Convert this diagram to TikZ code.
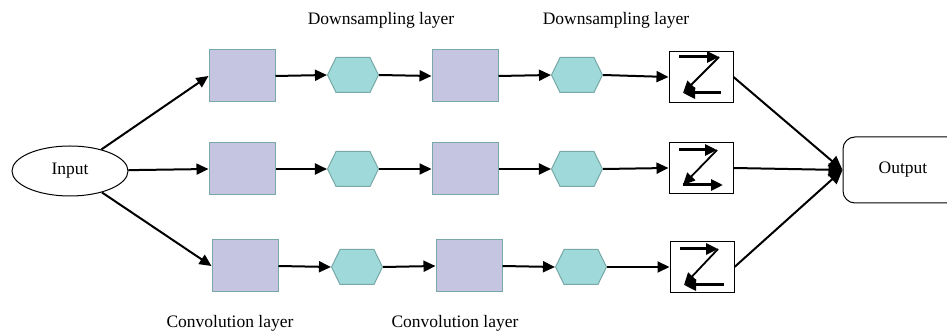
\documentclass[tikz,border=0pt]{standalone}
\usepackage{fontspec}
\setmainfont{Liberation Serif}
\usetikzlibrary{arrows.meta,shapes.geometric,shapes.symbols}
\definecolor{convfill}{HTML}{C5C5E2}
\definecolor{poolfill}{HTML}{A0D9D9}
\definecolor{shapeedge}{HTML}{78A8A8}
\tikzset{
  conv/.style={rectangle,draw=shapeedge,fill=convfill,line width=1pt,minimum width=66pt,minimum height=52pt,inner sep=0pt},
  pool/.style={signal,signal to=east and west,signal pointer angle=128,draw=shapeedge,fill=poolfill,line width=1pt,minimum width=51pt,minimum height=35pt,inner sep=0pt},
  zbox/.style={rectangle,draw=black,line width=1pt,minimum width=64pt,minimum height=51pt,inner sep=0pt},
  flow/.style={line width=2pt,-{Triangle[length=12pt,width=11pt]}},
  merge/.style={line width=2pt,-{Triangle[length=14pt,width=13pt]}},
  zthick/.style={line width=3pt,-{Triangle[length=12pt,width=11pt]}},
  zthin/.style={line width=1.8pt,-{Triangle[length=12pt,width=11pt]}},
  lbl/.style={font=\fontsize{17.5}{20}\selectfont,inner sep=0pt}
}
\begin{document}
\begin{tikzpicture}[x=1pt,y=-1pt]
\useasboundingbox (0,0) rectangle (947,336);

% input and output terminals
\node[ellipse,draw,line width=1pt,minimum width=116pt,minimum height=50pt,lbl] (in) at (70,171) {Input};
\node[rectangle,rounded corners=12pt,draw,line width=1pt,minimum width=120pt,minimum height=66pt,lbl] (out) at (903,170) {Output};

% three parallel branches
\node[conv] (c11) at (242,76) {};
\node[pool] (p11) at (353,75) {};
\node[conv] (c12) at (465,76) {};
\node[pool] (p12) at (577,75) {};
\node[zbox] (z1) at (701,77) {};

\node[conv] (c21) at (242,169) {};
\node[pool] (p21) at (353,169) {};
\node[conv] (c22) at (465,169) {};
\node[pool] (p22) at (577,169) {};
\node[zbox] (z2) at (701,168) {};

\node[conv] (c31) at (245,266) {};
\node[pool] (p31) at (357,267) {};
\node[conv] (c32) at (469,266) {};
\node[pool] (p32) at (581,267) {};
\node[zbox] (z3) at (702,267) {};

% layer captions
\node[lbl] (d1) at (381,20) {Downsampling layer};
\node[lbl] (d2) at (616,20) {Downsampling layer};
\node[lbl] (v1) at (230,323) {Convolution layer};
\node[lbl] (v2) at (455,323) {Convolution layer};

% connectors
\draw[flow] (in) -- (c11.west);
\draw[flow] (in) -- (c21.west);
\draw[flow] (in) -- (c31.west);
\foreach \r in {1,2,3}{
  \draw[flow] (c\r1.east) -- (p\r1.west);
  \draw[flow] (p\r1.east) -- (c\r2.west);
  \draw[flow] (c\r2.east) -- (p\r2.west);
  \draw[flow] (p\r2.east) -- (z\r.west);
  \draw[merge] (z\r.east) -- (out.west);
}

% scan-order glyphs inside the flattening boxes
\begin{scope}[shift={(z1.center)}]
  \draw[zthick] (-22,-20) -- (18,-20);
  \draw[zthin] (18,-20) -- (-18,16);
  \draw[zthick] (20,16) -- (-18,16);
\end{scope}
\begin{scope}[shift={(z2.center)}]
  \draw[zthick] (-22,-18) -- (16,-18);
  \draw[zthin] (16,-18) -- (-18,17);
  \draw[zthick] (-18,17) -- (22,17);
\end{scope}
\begin{scope}[shift={(z3.center)}]
  \draw[zthick] (-22,-18) -- (16,-18);
  \draw[zthin] (16,-18) -- (-18,18);
  \draw[zthick] (22,18) -- (-18,18);
\end{scope}
\end{tikzpicture}
\end{document}
